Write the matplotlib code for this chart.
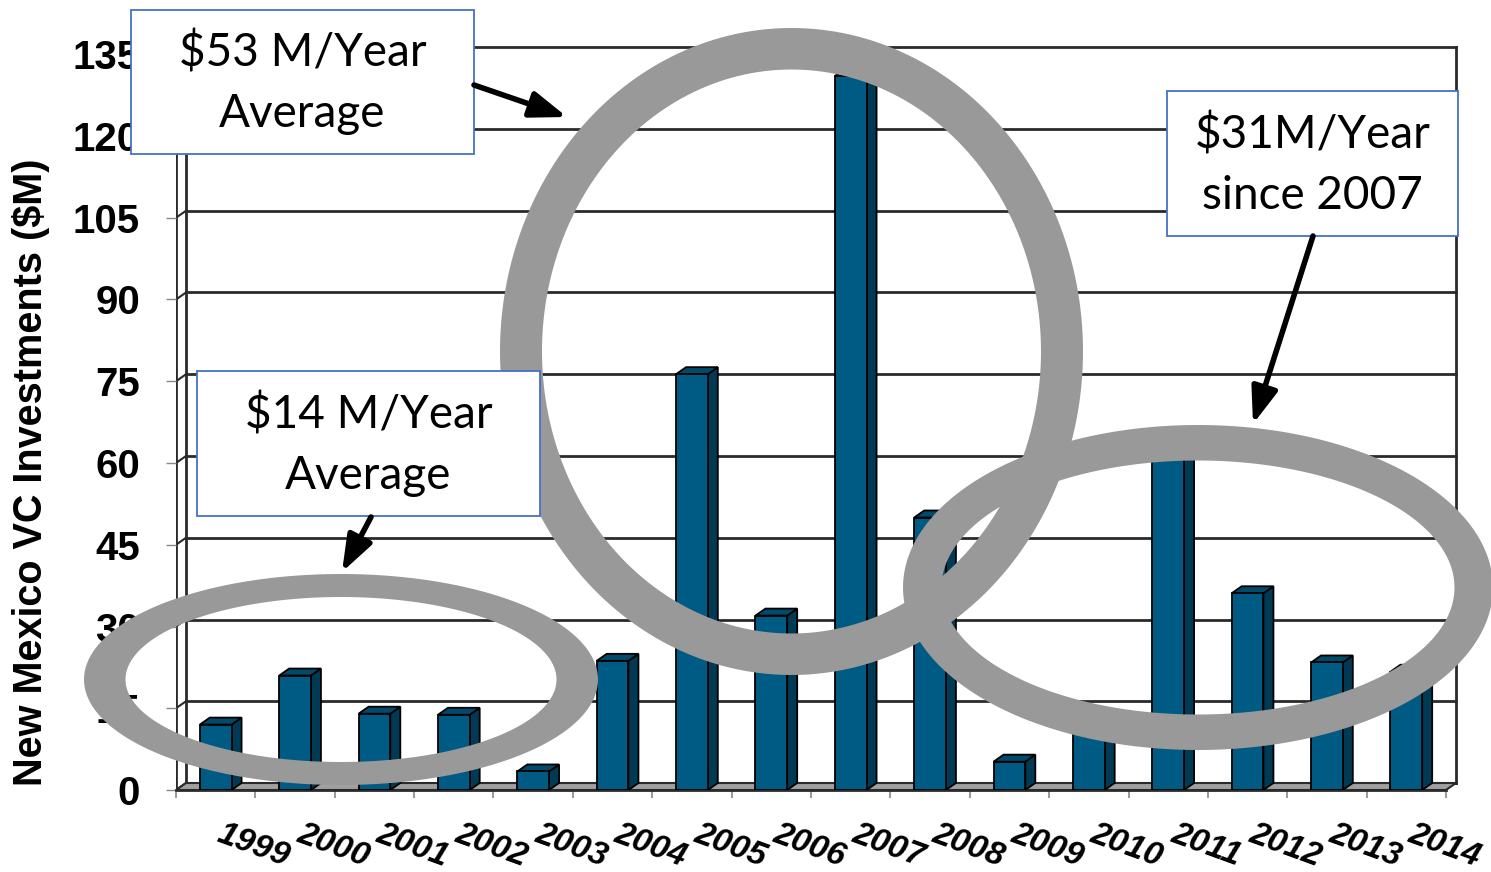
import matplotlib
matplotlib.use("Agg")
import matplotlib.pyplot as plt
import numpy as np
from matplotlib.patches import Polygon, Rectangle, PathPatch
from matplotlib.path import Path

# ---------------- data ----------------
years = ["1999", "2000", "2001", "2002", "2003", "2004", "2005", "2006",
         "2007", "2008", "2009", "2010", "2011", "2012", "2013", "2014"]
investments = [12, 21, 14, 13.8, 3.4, 23.7, 76.3, 32, 131, 50, 5.2, 13, 62, 36.1, 23.4, 21.7]
yticks = [0, 15, 30, 45, 60, 75, 90, 105, 120, 135]
ylabel = "New Mexico VC Investments ($M)"
notes = [("$53 M/Year\nAverage"), ("$14 M/Year\nAverage"), ("$31M/Year\nsince 2007")]

# ---------------- style ----------------
FRONT = "#005B84"
SIDE = "#003A55"
TOP = "#004A6C"
GRID = "#2a2a2a"
FLOOR = "#A0A0A0"
RING = "#999999"

W, H = 1491, 872
fig = plt.figure(figsize=(W / 100, H / 100), dpi=100)

# axes frame in pixel terms
x0_px, x1_px = 176, 1462
y0_px, y1_px = 790, 36
ppu_x = (1446 - 176) / 16.0
ppu_y = 5.45
ax = fig.add_axes([x0_px / W, (H - y0_px) / H, (x1_px - x0_px) / W, (y0_px - y1_px) / H])
ax.set_xlim(-0.5, -0.5 + (x1_px - x0_px) / ppu_x)
ax.set_ylim(0, (y0_px - y1_px) / ppu_y)
for s in ax.spines.values():
    s.set_visible(False)
ax.patch.set_alpha(0)

ddx = 10 / ppu_x   # depth offset (categories)
ddy = 7 / ppu_y    # depth offset (value units)
n = len(years)
xl, xr = -0.5, n - 0.5
ymax = yticks[-1]

# back wall gridlines + left wall diagonals
for v in yticks:
    ax.plot([xl + ddx, xr + ddx], [v + ddy, v + ddy], color=GRID, lw=2, zorder=1)
    ax.plot([xl, xl + ddx], [v, v + ddy], color=GRID, lw=1.5, zorder=1)
# walls edges
ax.plot([xl, xl], [0, ymax], color=GRID, lw=2, zorder=1)
ax.plot([xl + ddx, xl + ddx], [ddy, ymax + ddy], color=GRID, lw=2, zorder=1)
ax.plot([xr + ddx, xr + ddx], [ddy, ymax + ddy], color=GRID, lw=2, zorder=1)
# floor
ax.add_patch(Polygon([(xl, 0), (xr, 0), (xr + ddx, ddy), (xl + ddx, ddy)],
                     closed=True, facecolor=FLOOR, edgecolor=GRID, lw=1.5, zorder=2))

# bars (pseudo 3D)
bw = 0.4
for i, v in enumerate(investments):
    l, r = i - bw / 2, i + bw / 2
    ax.add_patch(Polygon([(r, 0), (r + ddx, ddy), (r + ddx, v + ddy), (r, v)], closed=True,
                         facecolor=SIDE, edgecolor="black", lw=1.3, zorder=3))
    ax.add_patch(Polygon([(l, v), (r, v), (r + ddx, v + ddy), (l + ddx, v + ddy)], closed=True,
                         facecolor=TOP, edgecolor="black", lw=1.3, zorder=3))
    ax.add_patch(Rectangle((l, 0), bw, v, facecolor=FRONT, edgecolor="black", lw=1.3, zorder=4))

# axes ticks
ax.set_yticks(yticks)
ax.set_yticklabels([str(t) for t in yticks], fontsize=29, fontweight="bold",
                   family="Liberation Sans")
ax.tick_params(axis="y", length=7, width=1, color="#888888", pad=19)
ax.set_xticks(np.arange(n + 1) - 0.5)
ax.set_xticklabels([])
ax.tick_params(axis="x", length=6, width=1.2, color="#888888")
ax.plot([xl, xr], [0, 0], color=GRID, lw=2, zorder=2, clip_on=False)

for i, yr in enumerate(years):
    ax.annotate(yr, xy=(i + 0.48, 0), xytext=(0, -40), textcoords="offset points",
                ha="center", va="center", rotation=-20, fontsize=24, fontweight="bold",
                style="italic", family="Liberation Sans", annotation_clip=False)

fig.text(31 / W, 1 - 472 / H, ylabel, rotation=90, ha="center", va="center",
         fontsize=28.5, fontweight="bold", family=["Liberation Sans Narrow", "Liberation Sans"])

# ---------------- overlay: rings, boxes, arrows ----------------
ov = fig.add_axes([0, 0, 1, 1], zorder=10)
ov.set_xlim(0, W)
ov.set_ylim(H, 0)
ov.axis("off")
ov.patch.set_alpha(0)


def ring(cx, cy, ao, bo, ai, bi):
    t = np.linspace(0, 2 * np.pi, 240)
    outer = np.column_stack([cx + ao * np.cos(t), cy + bo * np.sin(t)])
    inner = np.column_stack([cx + ai * np.cos(t[::-1]), cy + bi * np.sin(t[::-1])])
    verts = np.vstack([outer, inner])
    codes = ([Path.MOVETO] + [Path.LINETO] * (len(outer) - 2) + [Path.CLOSEPOLY]) * 2
    ov.add_patch(PathPatch(Path(verts, codes), facecolor=RING, edgecolor="none", zorder=2))


ring(791.5, 351.5, 291.5, 323.5, 249.5, 282)
ring(341, 679.5, 257, 105.5, 215.5, 82.5)
ring(1198, 587.5, 295, 162.5, 256.5, 127)

boxes = [(131, 10, 474, 154), (197, 371, 540, 516), (1167, 91, 1458, 236)]
for (bx0, by0, bx1, by1), txt in zip(boxes, notes):
    ov.add_patch(Rectangle((bx0, by0), bx1 - bx0, by1 - by0, facecolor="white",
                           edgecolor="#4472C4", lw=1.3, zorder=3))
    ov.text((bx0 + bx1) / 2, (by0 + by1) / 2 + 1, txt, ha="center", va="center",
            fontsize=33, family="Lato", linespacing=1.55, zorder=4)

arrows = [((474, 85), (567, 117)), ((371, 517), (342, 572)), ((1313, 236), (1253, 424))]
for tail, head in arrows:
    ov.annotate("", xy=head, xytext=tail,
                arrowprops=dict(arrowstyle="-|>,head_length=1.1,head_width=0.4",
                                lw=4, color="black", shrinkA=0, shrinkB=0,
                                mutation_scale=20), zorder=5)

fig.savefig("out.png", dpi=100)
